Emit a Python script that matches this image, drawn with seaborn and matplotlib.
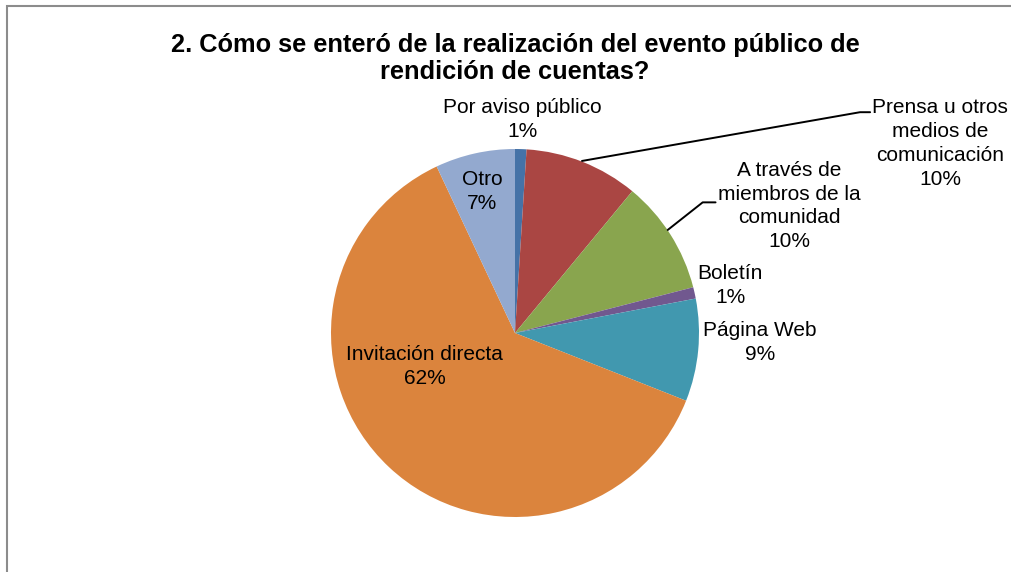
import matplotlib.pyplot as plt
import seaborn as sns
import numpy as np
from matplotlib.patches import Rectangle

categories = ["Por aviso público", "Prensa u otros\nmedios de\ncomunicación",
              "A través de\nmiembros de la\ncomunidad", "Boletín", "Página Web",
              "Invitación directa", "Otro"]
values = [1, 10, 10, 1, 9, 62, 7]
colors = ["#4572A7", "#AA4643", "#89A54E", "#71588F", "#4198AF", "#DB843D", "#93A9CF"]

sns.set_theme(style="white")
plt.rcParams['font.family'] = ['Liberation Sans', 'DejaVu Sans']

W, H = 1011, 572
fig = plt.figure(figsize=(W / 100, H / 100), dpi=100)
cx, cy, r = 515, 333, 184
ax = fig.add_axes([(cx - r) / W, (H - cy - r) / H, 2 * r / W, 2 * r / H])
ax.pie(values, colors=colors, startangle=90, counterclock=False, radius=1,
       wedgeprops={'linewidth': 0})
ax.set_xlim(-1, 1)
ax.set_ylim(-1, 1)
ax.set_aspect('equal')
ax.axis('off')

# label positions in pie units (layout only)
label_pos = [(0.04, 1.16), (2.31, 1.03), (1.49, 0.69), (1.17, 0.26),
             (1.33, -0.05), (-0.49, -0.18), (-0.18, 0.77)]
for name, v, (x, y) in zip(categories, values, label_pos):
    ax.text(x, y, f"{name}\n{v}%", ha='center', va='center', fontsize=15,
            linespacing=1.32, clip_on=False, color='black')

# leader lines
ax.plot([0.364, 1.875, 1.93], [0.935, 1.20, 1.20], color='black', lw=1.4, clip_on=False)
ax.plot([0.83, 1.02, 1.09], [0.56, 0.71, 0.71], color='black', lw=1.4, clip_on=False)

fig.text(515 / W, 1 - 58.5 / H, "2. Cómo se enteró de la realización del evento público de\nrendición de cuentas?",
         ha='center', va='center', fontsize=18.3, fontweight='bold', linespacing=1.14,
         color='black')

fig.patches.append(Rectangle((7 / W, -0.2), 1.2, 1.2 - 6 / H, transform=fig.transFigure,
                             fill=False, edgecolor='#8c8c8c', lw=1.5))

fig.savefig("out.png", dpi=100)
